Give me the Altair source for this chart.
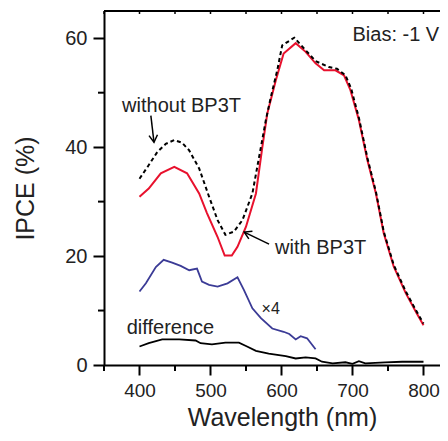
import altair as alt
import pandas as pd

# ---------------- data ----------------
with_wl = [400, 413, 430, 449, 467, 484, 495, 510, 520, 530, 538, 550, 564, 573, 580,
           592, 603, 620, 634, 648, 660, 676, 688, 697, 709, 721, 733, 744, 758, 775, 790, 800]
with_v = [30.9, 32.4, 35.2, 36.4, 35.2, 31.5, 27.9, 23.5, 20.1, 20.1, 21.7, 25.4, 31.5, 40.0, 46.2,
          52.3, 57.2, 59.1, 57.5, 55.4, 54.1, 54.1, 53.2, 50.5, 45.0, 37.6, 31.5, 24.2, 18.1, 13.2, 9.6, 7.3]

without_wl = [400, 412, 425, 437, 449, 460, 470, 484, 498, 510, 521, 533, 545, 559, 571,
              578, 585, 594, 601, 618, 634, 648, 667, 678, 690, 698, 709, 721, 733, 744, 758, 775, 790, 800]
without_v = [34.2, 36.5, 39.1, 40.6, 41.3, 40.8, 39.4, 36.1, 30.9, 26.6, 23.9, 24.5, 26.6, 31.5, 40.0,
             45.0, 49.2, 54.1, 58.7, 60.1, 57.8, 55.8, 54.7, 54.4, 53.2, 50.8, 45.4, 38.0, 31.8, 24.5, 18.4, 13.5, 9.9, 7.6]

x4_wl = [400, 409, 423, 434, 446, 458, 470, 481, 488, 498, 510, 524, 538, 547, 559, 571,
         587, 603, 611, 620, 627, 636, 648]
x4_v = [13.5, 15.0, 18.0, 19.3, 18.8, 18.2, 17.4, 17.7, 15.3, 14.7, 14.4, 15.0, 16.1, 13.8, 10.4, 8.6,
        6.7, 6.1, 5.7, 4.7, 5.3, 4.9, 2.9]

diff_wl = [400, 413, 432, 456, 479, 486, 502, 521, 540, 550, 564, 582, 606, 620, 634, 648,
           657, 672, 690, 700, 709, 718, 746, 770, 800]
diff_v = [3.4, 4.0, 4.7, 4.7, 4.5, 4.0, 3.8, 4.1, 4.1, 3.5, 2.6, 2.1, 1.65, 1.2, 1.4, 1.2,
          0.6, 0.3, 0.5, 0.2, 0.7, 0.3, 0.5, 0.6, 0.6]

x_major = [400, 500, 600, 700, 800]
x_minor = [350, 450, 550, 650, 750]
x_all = [350, 400, 450, 500, 550, 600, 650, 700, 750, 800]
y_major = [0, 20, 40, 60]
y_minor = [10, 30, 50]

FONT = "Liberation Sans"
TXT = "#222222"
W, H = 336, 354
X_MAX = 350 + W / 0.71  # plot right edge at the window edge

xs = alt.Scale(domain=[350, X_MAX], nice=False, zero=False)
ys = alt.Scale(domain=[0, 65], nice=False, zero=False)


def line_df(wl, v):
    return pd.DataFrame({"wl": wl, "v": v})


base_x_axis = alt.Axis(values=x_major, tickSize=10, tickWidth=2, tickColor="black",
                       domainColor="black", domainWidth=2, labelFontSize=19, labelFont=FONT,
                       labelColor=TXT, labelPadding=6, title="Wavelength (nm)",
                       titleFont=FONT, titleFontSize=25, titleFontWeight="normal",
                       titleColor=TXT, titlePadding=5, grid=False, labelFlush=False,
                       titleAnchor="middle", titleX=178)
base_y_axis = alt.Axis(values=y_major, tickSize=11, tickWidth=2, tickColor="black",
                       domainColor="black", domainWidth=2, labelFontSize=20, labelFont=FONT,
                       labelColor=TXT, labelPadding=6, title="IPCE (%)",
                       titleFont=FONT, titleFontSize=25, titleFontWeight="normal",
                       titleColor=TXT, titlePadding=26, grid=False, labelFlush=False)

with_line = alt.Chart(line_df(with_wl, with_v)).mark_line(color="#E8112D", strokeWidth=2).encode(
    x=alt.X("wl:Q", scale=xs, axis=base_x_axis),
    y=alt.Y("v:Q", scale=ys, axis=base_y_axis),
)
without_line = alt.Chart(line_df(without_wl, without_v)).mark_line(
    color="black", strokeWidth=2, strokeDash=[4, 3]).encode(x=alt.X("wl:Q", scale=xs), y=alt.Y("v:Q", scale=ys))
x4_line = alt.Chart(line_df(x4_wl, x4_v)).mark_line(color="#3B3B96", strokeWidth=1.8).encode(
    x=alt.X("wl:Q", scale=xs), y=alt.Y("v:Q", scale=ys))
diff_line = alt.Chart(line_df(diff_wl, diff_v)).mark_line(color="black", strokeWidth=1.8).encode(
    x=alt.X("wl:Q", scale=xs), y=alt.Y("v:Q", scale=ys))

# top frame line and minor ticks
top_line = alt.Chart().mark_rule(color="black", strokeWidth=2).encode(
    x=alt.value(0), x2=alt.value(W), y=alt.value(0))
bottom_minor = alt.Chart(pd.DataFrame({"t": x_minor})).mark_rule(color="black", strokeWidth=2).encode(
    x=alt.X("t:Q", scale=xs), y=alt.value(H), y2=alt.value(H + 6))
top_ticks = alt.Chart(pd.DataFrame({"t": x_all})).mark_rule(color="black", strokeWidth=1.5).encode(
    x=alt.X("t:Q", scale=xs), y=alt.value(0), y2=alt.value(3))
left_minor = alt.Chart(pd.DataFrame({"t": y_minor})).mark_rule(color="black", strokeWidth=2).encode(
    y=alt.Y("t:Q", scale=ys), x=alt.value(-6), x2=alt.value(0))


def label(text, x, y, size=20):
    return alt.Chart().mark_text(text=text, font=FONT, fontSize=size, color=TXT,
                                 align="left", baseline="middle").encode(
        x=alt.datum(x, scale=xs), y=alt.datum(y, scale=ys))


texts = [
    label("without BP3T", 375.5, 47.6),
    label("with BP3T", 591, 21.5),
    label("\u00d74", 572, 10.2, 16),
    label("difference", 382, 6.8),
    label("Bias: -1 V", 700, 60.6),
]

# arrows
shaft1 = alt.Chart().mark_rule(color="black", strokeWidth=1.5).encode(
    x=alt.datum(416.0, scale=xs), y=alt.datum(45.8, scale=ys),
    x2=alt.datum(420.4), y2=alt.datum(40.9))
head1 = alt.Chart().mark_point(shape="M-0.6,-1L0,0L0.6,-1", filled=False, color="black",
                               strokeWidth=1.5, size=200, angle=354, opacity=1).encode(
    x=alt.datum(420.4, scale=xs), y=alt.datum(40.9, scale=ys))
shaft2 = alt.Chart().mark_rule(color="black", strokeWidth=1.5).encode(
    x=alt.datum(582.5, scale=xs), y=alt.datum(22.2, scale=ys),
    x2=alt.datum(547.5), y2=alt.datum(24.4))
head2 = alt.Chart().mark_point(shape="M-0.6,-1L0,0L0.6,-1", filled=False, color="black",
                               strokeWidth=1.5, size=200, angle=115, opacity=1).encode(
    x=alt.datum(547.5, scale=xs), y=alt.datum(24.4, scale=ys))

chart = alt.layer(
    with_line, without_line, x4_line, diff_line,
    top_line, bottom_minor, top_ticks, left_minor,
    *texts, shaft1, head1, shaft2, head2,
).properties(
    width=W, height=H,
    autosize=alt.AutoSizeParams(type="none"),
    padding={"left": 96, "top": 3, "right": 0, "bottom": 67},
).configure_view(stroke=None).configure(background="white")

chart.save("out.html", embed_options={"renderer": "svg", "actions": False})
